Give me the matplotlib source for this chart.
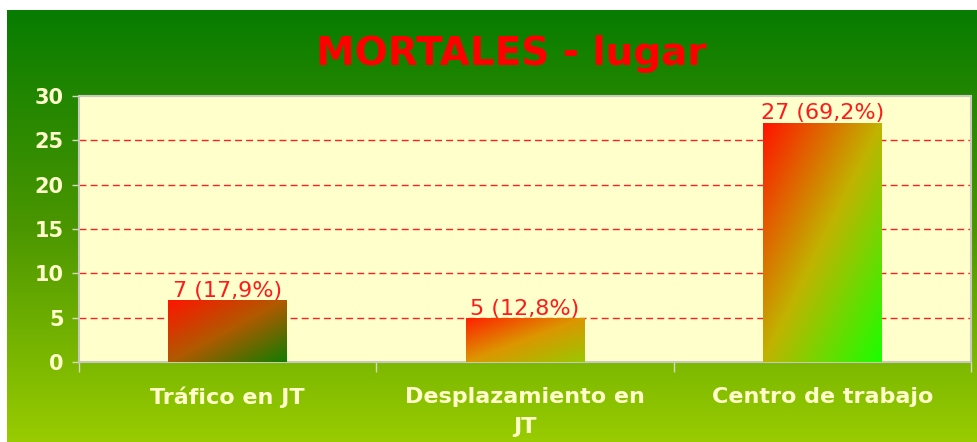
import matplotlib
matplotlib.use('Agg')
import matplotlib.pyplot as plt
import numpy as np
from matplotlib.colors import LinearSegmentedColormap

# Datos
categorias = ['Tráfico en JT', 'Desplazamiento en\nJT', 'Centro de trabajo']
valores = [7, 5, 27]
porcentajes = [17.9, 12.8, 69.2]
titulo = 'MORTALES - lugar'

# colores del degradado de cada barra (arriba-izq -> abajo-der)
degradados = [
    ['#ff1400', '#b05a00', '#137c00'],
    ['#ff1e00', '#dc9600', '#99c800'],
    ['#ff1400', '#c0b400', '#1aff00'],
]

fig = plt.figure(figsize=(9.77, 4.42), dpi=100)
fig.patch.set_facecolor('white')

# Fondo verde degradado
bg = fig.add_axes([7 / 977, 0, 970 / 977, 432 / 442], zorder=0)
bg_cmap = LinearSegmentedColormap.from_list('fondo', ['#077c00', '#4a9600', '#99cc00'])
bg.imshow(np.linspace(0, 1, 256).reshape(-1, 1), aspect='auto', cmap=bg_cmap,
          extent=[0, 1, 0, 1], origin='upper')
bg.set_axis_off()

ax = fig.add_axes([79 / 977, 80 / 442, 892 / 977, 266 / 442], zorder=1)
ax.set_facecolor('#ffffcc')

x = np.arange(len(categorias))
barras = ax.bar(x, valores, width=0.4, facecolor='none', edgecolor='none', zorder=3)

# Degradado diagonal dentro de cada barra
u = np.linspace(0, 1, 100)
uu, vv = np.meshgrid(u, u)
t = (uu + vv) / 2
for barra, cols in zip(barras, degradados):
    cmap = LinearSegmentedColormap.from_list('b', cols)
    x0, y0 = barra.get_x(), barra.get_y()
    w, h = barra.get_width(), barra.get_height()
    im = ax.imshow(t, cmap=cmap, vmin=0, vmax=1, aspect='auto', origin='upper',
                   extent=[x0, x0 + w, y0, y0 + h], zorder=3)
    im.set_clip_path(barra)

for xi, v, p in zip(x, valores, porcentajes):
    ax.text(xi, v - 0.1, f'{v} ({str(p).replace(".", ",")}%)', ha='center', va='bottom',
            color='#ff1a1a', fontsize=16, zorder=4)

ax.set_xlim(-0.5, 2.5)
ax.set_ylim(0, 30)
ax.set_yticks(range(0, 31, 5))

# rejilla roja discontinua
for yv in range(5, 30, 5):
    ax.axhline(yv, color='#ff2020', lw=1, dashes=(5, 3), zorder=1)

ax.set_xticks(x)
ax.set_xticklabels(categorias, fontsize=16, fontweight='bold', color='#ffffcc',
                   linespacing=1.65)
ax.tick_params(axis='x', length=0, pad=18)
ax.set_xticks([-0.5, 0.5, 1.5, 2.5], minor=True)
ax.tick_params(axis='x', which='minor', length=7, color='#d8d8c0', width=1)
ax.tick_params(axis='y', length=5, color='#d8d8c0', width=1, pad=6,
               labelsize=15, labelcolor='#ffffcc')
for lab in ax.get_yticklabels():
    lab.set_fontweight('bold')

for s in ax.spines.values():
    s.set_color('#c8c8c0')
    s.set_linewidth(1.5)

fig.text(511 / 977, 1 - 65 / 442, titulo, ha='center', va='baseline',
         fontsize=28, fontweight='bold', color='#ff0000')

fig.savefig('out.png', dpi=100)
